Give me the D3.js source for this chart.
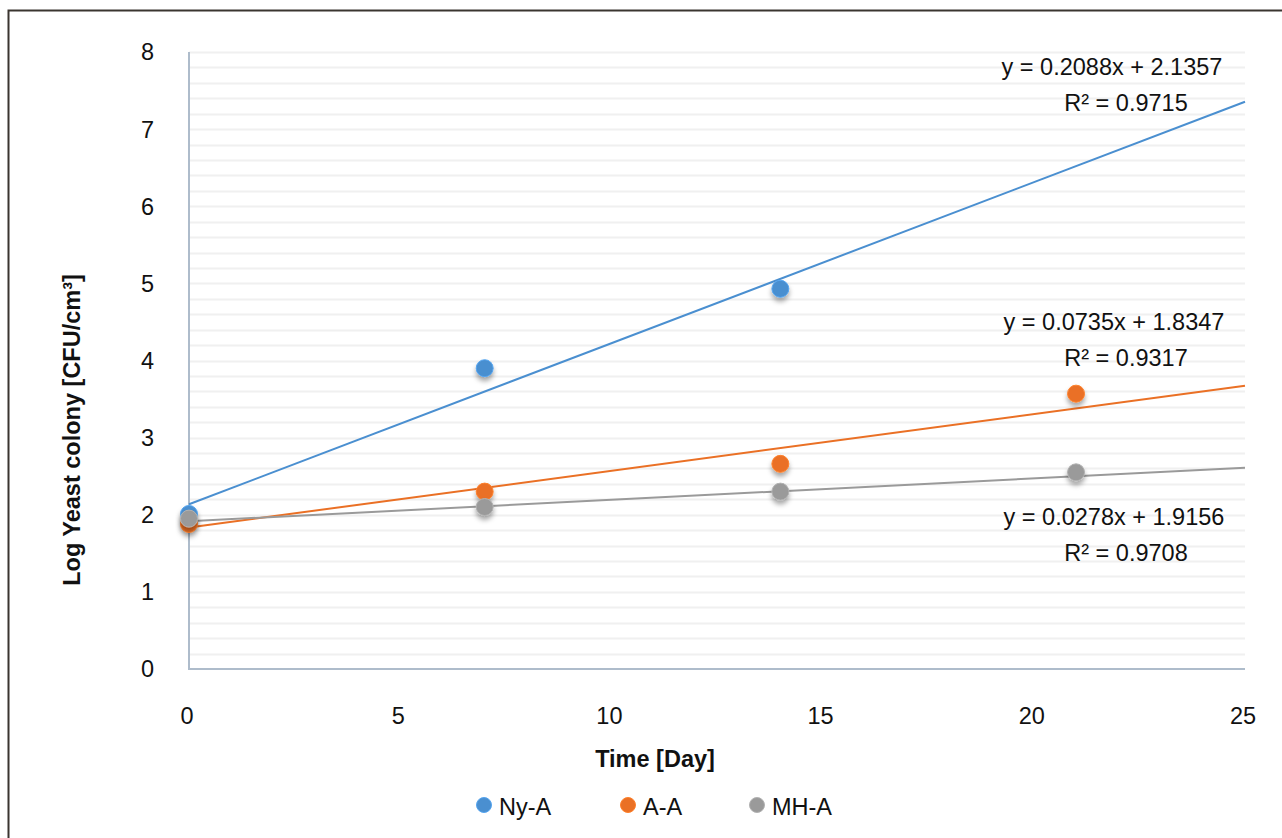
<!DOCTYPE html>
<html><head><meta charset="utf-8">
<script src="https://cdn.jsdelivr.net/npm/d3@7"></script>
<style>
html,body{margin:0;padding:0;background:#fff;}
svg{display:block;font-family:"Liberation Sans",Arial,Helvetica,sans-serif;}
</style></head>
<body>
<svg id="chart" width="1282" height="838"></svg>
<script>
const seriesNames = ["Ny-A", "A-A", "MH-A"];
const seriesColors = ["#4a8fd0", "#ea7025", "#9a9a9a"];
const nyX = [0, 7, 14];
const nyY = [2.01, 3.90, 4.93];
const aaX = [0, 7, 14, 21];
const aaY = [1.88, 2.30, 2.66, 3.57];
const mhX = [0, 7, 14, 21];
const mhY = [1.95, 2.10, 2.30, 2.55];
const slopes = [0.2088, 0.0735, 0.0278];
const intercepts = [2.1357, 1.8347, 1.9156];
const eqLabels = ["y = 0.2088x + 2.1357", "y = 0.0735x + 1.8347", "y = 0.0278x + 1.9156"];
const r2Labels = ["R² = 0.9715", "R² = 0.9317", "R² = 0.9708"];
const xTicks = [0, 5, 10, 15, 20, 25];
const yTicks = [0, 1, 2, 3, 4, 5, 6, 7, 8];
const xTitle = "Time [Day]";
const yTitle = "Log Yeast colony [CFU/cm³]";

const FS = 23.5;
const svg = d3.select("#chart");
const defs = svg.append("defs");
const f = defs.append("filter").attr("id","sh").attr("x","-50%").attr("y","-50%").attr("width","200%").attr("height","250%");
f.append("feDropShadow").attr("dx",0).attr("dy",4).attr("stdDeviation",2.5).attr("flood-color","#000").attr("flood-opacity",0.35);

// border
svg.append("path").attr("d","M8.5,1000 L8.5,10.5 L1300,10.5").attr("fill","none").attr("stroke","#3a3530").attr("stroke-width",2);

const x = d3.scaleLinear().domain([0,25]).range([189,1245]);
const y = d3.scaleLinear().domain([0,8]).range([669,52]);

// minor gridlines every 0.2
const grid = d3.range(1,41).map(i=>i*0.2);
svg.append("g").selectAll("line").data(grid).join("line")
  .attr("x1",x(0)).attr("x2",x(25))
  .attr("y1",d=>Math.round(y(d))+0.5).attr("y2",d=>Math.round(y(d))+0.5)
  .attr("stroke","#f0f0f0").attr("stroke-width",2);

// axes lines
svg.append("line").attr("x1",x(0)).attr("x2",x(0)).attr("y1",y(8)).attr("y2",y(0)).attr("stroke","#aebccb").attr("stroke-width",2);
svg.append("line").attr("x1",x(0)-1).attr("x2",x(25)).attr("y1",y(0)).attr("y2",y(0)).attr("stroke","#aebccb").attr("stroke-width",2);

// tick labels
svg.append("g").selectAll("text").data(yTicks).join("text")
  .attr("x",154).attr("y",d=>y(d)).attr("dy","0.36em").attr("text-anchor","end")
  .attr("font-size",FS).attr("fill","#111").text(d=>d);
svg.append("g").selectAll("text").data(xTicks).join("text")
  .attr("x",d=>x(d)-2).attr("y",716).attr("dy","0.36em").attr("text-anchor","middle")
  .attr("font-size",FS).attr("fill","#111").text(d=>d);

// titles
svg.append("text").attr("x",655).attr("y",759).attr("dy","0.36em").attr("text-anchor","middle")
  .attr("font-size",FS).attr("font-weight","bold").attr("fill","#111").text(xTitle);
svg.append("text").attr("transform","translate(72,430) rotate(-90)").attr("dy","0.36em").attr("text-anchor","middle")
  .attr("font-size",FS).attr("font-weight","bold").attr("fill","#111").text(yTitle);

// trend lines
slopes.forEach((m,i)=>{
  svg.append("line").attr("x1",x(0)).attr("y1",y(intercepts[i]))
    .attr("x2",x(25)).attr("y2",y(intercepts[i]+m*25))
    .attr("stroke",seriesColors[i]).attr("stroke-width",2);
});

// points
const pts = [[nyX,nyY],[aaX,aaY],[mhX,mhY]];
pts.forEach((p,i)=>{
  svg.append("g").selectAll("circle").data(p[0].map((v,j)=>[v,p[1][j]])).join("circle")
    .attr("cx",d=>x(d[0])).attr("cy",d=>y(d[1])).attr("r",8.5)
    .attr("fill",seriesColors[i]).attr("stroke",d3.color(seriesColors[i]).brighter(0.4)).attr("stroke-width",1)
    .attr("filter","url(#sh)");
});

// equation labels
const eqPos = [[1112,67,1126,103],[1114,322,1126,358],[1114,517,1126,553]];
eqLabels.forEach((t,i)=>{
  svg.append("text").attr("x",eqPos[i][0]).attr("y",eqPos[i][1]).attr("dy","0.36em").attr("text-anchor","middle")
    .attr("font-size",FS).attr("fill","#111").text(t);
  svg.append("text").attr("x",eqPos[i][2]).attr("y",eqPos[i][3]).attr("dy","0.36em").attr("text-anchor","middle")
    .attr("font-size",FS).attr("fill","#111").text(r2Labels[i]);
});

// legend
const legX = [484, 628, 757];
seriesNames.forEach((n,i)=>{
  svg.append("circle").attr("cx",legX[i]).attr("cy",805).attr("r",7.5).attr("fill",seriesColors[i]).attr("stroke",d3.color(seriesColors[i]).brighter(0.4));
  svg.append("text").attr("x",legX[i]+15).attr("y",807).attr("dy","0.36em").attr("font-size",FS).attr("fill","#111").text(n);
});
</script>
</body></html>
